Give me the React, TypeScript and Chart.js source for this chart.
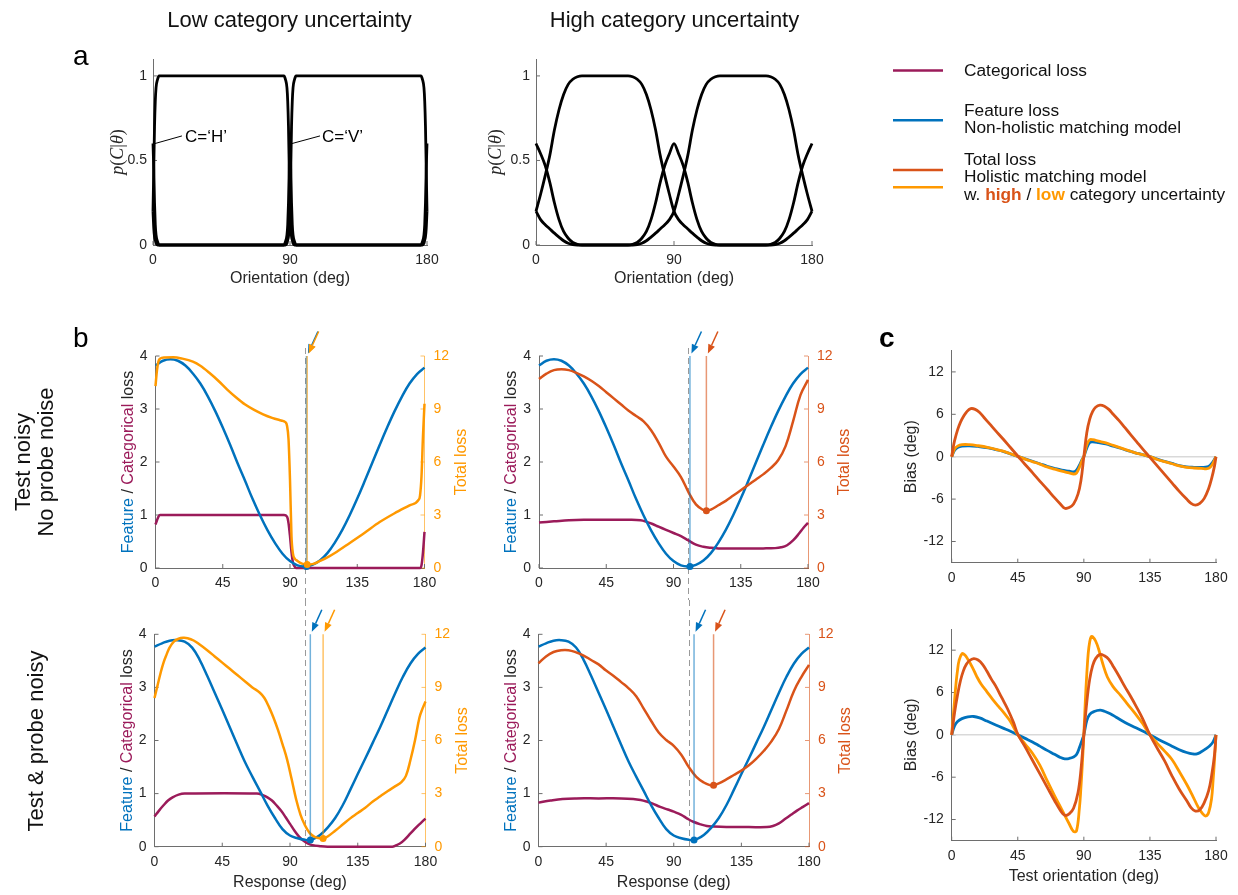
import React, { useEffect, useRef } from "react";
import { Chart, registerables } from "chart.js";

Chart.register(...registerables);

const FONT = "'Liberation Sans', Arial, Helvetica, sans-serif";
const BLUE = "#0072BD";
const ORANGE = "#FF9900";
const RED = "#D95319";
const PURPLE = "#9B1B5A";
const INK = "#262626";
const AXISLINE = "#6E6E6E";
const TITLE_FONT = "16px 'Liberation Sans', Arial, sans-serif";

// ---------------- Panel a : p(C|theta) ----------------
const aXTicks = [0, 90, 180];
const aYTicks = [0, 0.5, 1];
const aLowTheta = [0, 0.5, 1, 1.5, 2, 3, 4, 86, 87, 88, 88.5, 89, 89.5, 90, 90.5, 91, 91.5, 92, 93, 94, 176, 177, 178, 178.5, 179, 179.5, 180];
const aLowH = [0.2, 0.45, 0.7, 0.85, 0.93, 0.98, 1, 1, 0.98, 0.93, 0.85, 0.7, 0.45, 0.2, 0.1, 0.05, 0.03, 0.01, 0, 0, 0, 0, 0.01, 0.03, 0.05, 0.1, 0.2];
const aLowV = [0.2, 0.1, 0.05, 0.03, 0.01, 0, 0, 0, 0, 0.01, 0.03, 0.05, 0.1, 0.2, 0.45, 0.7, 0.85, 0.93, 0.98, 1, 1, 0.98, 0.93, 0.85, 0.7, 0.45, 0.2];
const aLowO = [0.6, 0.45, 0.25, 0.12, 0.06, 0.02, 0, 0, 0.02, 0.06, 0.12, 0.25, 0.45, 0.6, 0.45, 0.25, 0.12, 0.06, 0.02, 0, 0, 0.02, 0.06, 0.12, 0.25, 0.45, 0.6];

const aHighTheta = [0, 3, 6, 9, 12, 15, 18, 21, 24, 27, 30, 33, 36, 39, 42, 45, 48, 51, 54, 57, 60, 63, 66, 69, 72, 75, 78, 81, 84, 87, 90, 93, 96, 99, 102, 105, 108, 111, 114, 117, 120, 123, 126, 129, 132, 135, 138, 141, 144, 147, 150, 153, 156, 159, 162, 165, 168, 171, 174, 177, 180];
const aHighH = [0.2, 0.3, 0.41, 0.53, 0.68, 0.8, 0.89, 0.95, 0.98, 0.995, 1, 1, 1, 1, 1, 1, 1, 1, 1, 1, 1, 0.995, 0.98, 0.95, 0.89, 0.8, 0.68, 0.53, 0.41, 0.3, 0.2, 0.15, 0.12, 0.095, 0.07, 0.047, 0.025, 0.01, 0.002, 0, 0, 0, 0, 0, 0, 0, 0, 0, 0, 0, 0, 0, 0.002, 0.01, 0.025, 0.047, 0.07, 0.095, 0.12, 0.15, 0.2];
const aHighV = [0.2, 0.15, 0.12, 0.095, 0.07, 0.047, 0.025, 0.01, 0.002, 0, 0, 0, 0, 0, 0, 0, 0, 0, 0, 0, 0, 0, 0.002, 0.01, 0.025, 0.047, 0.07, 0.095, 0.12, 0.15, 0.2, 0.3, 0.41, 0.53, 0.68, 0.8, 0.89, 0.95, 0.98, 0.995, 1, 1, 1, 1, 1, 1, 1, 1, 1, 1, 1, 0.995, 0.98, 0.95, 0.89, 0.8, 0.68, 0.53, 0.41, 0.3, 0.2];
const aHighO = [0.6, 0.54, 0.47, 0.37, 0.25, 0.15, 0.08, 0.04, 0.015, 0.004, 0, 0, 0, 0, 0, 0, 0, 0, 0, 0, 0, 0.004, 0.015, 0.04, 0.08, 0.15, 0.25, 0.37, 0.47, 0.54, 0.6, 0.54, 0.47, 0.37, 0.25, 0.15, 0.08, 0.04, 0.015, 0.004, 0, 0, 0, 0, 0, 0, 0, 0, 0, 0, 0, 0.004, 0.015, 0.04, 0.08, 0.15, 0.25, 0.37, 0.47, 0.54, 0.6];

// ---------------- Panel b : loss functions ----------------
const bXTicks = [0, 45, 90, 135, 180];
const bYTicks = [0, 1, 2, 3, 4];
const bY2Ticks = [0, 3, 6, 9, 12];
const bTrueOrientation = 100;

// row 1 (test noisy, no probe noise)
const bFeat1X = [0, 5, 10, 15, 20, 25, 30, 35, 40, 45, 50, 55, 60, 65, 70, 75, 80, 85, 90, 95, 100, 105, 110, 115, 120, 125, 130, 135, 140, 145, 150, 155, 160, 165, 170, 175, 180];
const bFeat1Y = [3.82, 3.91, 3.94, 3.91, 3.82, 3.67, 3.48, 3.24, 2.96, 2.65, 2.32, 1.97, 1.64, 1.3, 0.99, 0.71, 0.47, 0.27, 0.13, 0.05, 0.03, 0.06, 0.14, 0.28, 0.48, 0.72, 1.0, 1.31, 1.64, 1.98, 2.32, 2.65, 2.96, 3.24, 3.48, 3.66, 3.78];
const bCat1LowX = [0, 1, 2, 3, 86, 88, 89, 90, 91, 92, 93, 94, 177, 178, 179, 180];
const bCat1LowY = [0.82, 0.9, 0.97, 1, 1, 0.97, 0.85, 0.6, 0.3, 0.1, 0.03, 0, 0, 0.05, 0.3, 0.68];
const bTot1LowX = [0, 1, 2, 3, 6, 12, 18, 25, 30, 36, 42, 48, 54, 60, 66, 72, 78, 84, 87, 88, 89, 90, 91, 92, 93, 95, 98, 101, 105, 110, 115, 120, 130, 140, 150, 160, 170, 176, 177, 178, 179, 180];
const bTot1LowY = [10.3, 11.2, 11.7, 11.85, 11.92, 11.93, 11.85, 11.68, 11.45, 11.05, 10.6, 10.1, 9.65, 9.25, 8.95, 8.7, 8.5, 8.35, 8.25, 8.05, 7.3, 5.0, 1.8, 0.8, 0.55, 0.4, 0.25, 0.2, 0.22, 0.4, 0.6, 0.85, 1.42, 2.0, 2.6, 3.1, 3.55, 3.85, 4.1, 5.2, 7.5, 9.3];
const bCat1HighX = [0, 10, 20, 30, 40, 50, 60, 68, 72, 76, 80, 85, 90, 95, 100, 105, 110, 115, 120, 130, 140, 150, 158, 162, 166, 170, 174, 177, 180];
const bCat1HighY = [0.86, 0.88, 0.9, 0.91, 0.91, 0.91, 0.91, 0.9, 0.87, 0.83, 0.78, 0.72, 0.66, 0.6, 0.52, 0.44, 0.4, 0.38, 0.37, 0.37, 0.37, 0.37, 0.375, 0.39, 0.43, 0.52, 0.65, 0.76, 0.85];
const bTot1HighX = [0, 5, 10, 15, 20, 25, 30, 35, 40, 45, 50, 55, 60, 65, 70, 75, 80, 85, 90, 95, 100, 105, 110, 112, 115, 120, 125, 130, 135, 140, 145, 150, 155, 160, 165, 170, 175, 180];
const bTot1HighY = [10.7, 11.0, 11.2, 11.25, 11.2, 11.05, 10.85, 10.6, 10.3, 9.95, 9.6, 9.25, 8.9, 8.6, 8.3, 7.8, 7.1, 6.3, 5.75, 5.15, 4.3, 3.6, 3.28, 3.24, 3.3, 3.55, 3.8, 4.1, 4.4, 4.7, 5.0, 5.3, 5.65, 6.1, 6.9, 8.3, 9.8, 10.65];

// row 2 (test & probe noisy)
const bFeat2X = [0, 5, 10, 15, 20, 25, 30, 35, 40, 45, 50, 55, 60, 65, 70, 75, 80, 85, 90, 95, 100, 103, 106, 110, 115, 120, 125, 130, 135, 140, 145, 150, 155, 160, 165, 170, 175, 180];
const bFeat2Y = [3.77, 3.83, 3.88, 3.89, 3.86, 3.75, 3.52, 3.22, 2.9, 2.58, 2.25, 1.92, 1.6, 1.32, 1.05, 0.78, 0.54, 0.33, 0.21, 0.16, 0.13, 0.125, 0.15, 0.22, 0.36, 0.54, 0.78, 1.07, 1.37, 1.66, 1.96, 2.26, 2.58, 2.9, 3.2, 3.45, 3.63, 3.75];
const bCat2LowX = [0, 3, 6, 9, 12, 16, 20, 68, 72, 75, 78, 81, 84, 87, 90, 93, 96, 99, 102, 105, 110, 115, 158, 160, 163, 166, 170, 174, 177, 180];
const bCat2LowY = [0.57, 0.68, 0.78, 0.87, 0.93, 0.98, 1, 1, 0.97, 0.93, 0.87, 0.78, 0.68, 0.56, 0.43, 0.3, 0.19, 0.11, 0.06, 0.03, 0.01, 0, 0, 0.02, 0.06, 0.13, 0.25, 0.37, 0.45, 0.53];
const bTot2LowX = [0, 2, 4, 6, 8, 10, 13, 16, 19, 22, 26, 30, 35, 40, 45, 50, 55, 60, 65, 70, 73, 76, 79, 82, 85, 88, 91, 94, 97, 100, 103, 106, 109, 112, 115, 120, 125, 130, 135, 140, 145, 150, 155, 160, 164, 167, 170, 173, 176, 178, 180];
const bTot2LowY = [8.4, 9.1, 9.8, 10.4, 10.85, 11.25, 11.6, 11.75, 11.8, 11.78, 11.65, 11.42, 11.1, 10.75, 10.4, 10.05, 9.7, 9.35, 9.0, 8.7, 8.4, 7.9, 7.3, 6.6, 5.8, 4.95, 3.85, 2.7, 1.8, 1.2, 0.78, 0.57, 0.49, 0.47, 0.58, 0.9, 1.25, 1.6, 1.9, 2.2, 2.55, 2.85, 3.15, 3.42, 3.65, 4.0, 4.9, 6.0, 7.3, 7.8, 8.2];
const bCat2HighX = [0, 8, 16, 25, 40, 55, 63, 68, 72, 76, 81, 86, 90, 95, 99, 103, 108, 112, 116, 125, 140, 152, 156, 160, 164, 168, 172, 176, 180];
const bCat2HighY = [0.83, 0.87, 0.9, 0.91, 0.91, 0.91, 0.9, 0.88, 0.85, 0.81, 0.75, 0.7, 0.66, 0.6, 0.53, 0.47, 0.42, 0.39, 0.38, 0.37, 0.37, 0.37, 0.39, 0.44, 0.52, 0.6, 0.68, 0.75, 0.82];
const bTot2HighX = [0, 5, 10, 15, 20, 25, 30, 35, 40, 45, 50, 55, 60, 65, 70, 75, 80, 85, 90, 95, 100, 105, 110, 114, 116, 120, 125, 130, 135, 140, 145, 150, 155, 160, 165, 170, 175, 180];
const bTot2HighY = [10.36, 10.75, 11.0, 11.1, 11.1, 10.98, 10.8, 10.55, 10.3, 9.95, 9.65, 9.3, 8.95, 8.5, 7.8, 7.1, 6.45, 6.03, 5.7, 5.2, 4.5, 3.95, 3.63, 3.48, 3.47, 3.58, 3.8, 4.05, 4.3, 4.6, 4.98, 5.42, 5.95, 6.65, 7.7, 8.8, 9.6, 10.27];

// minima (chosen responses): [x, y]
const b1FeatMin = [101, 0.03];
const b1TotMin = [101.5, 0.2];
const b2FeatMin = [101, 0.03];
const b2TotMin = [112, 3.24];
const b3FeatMin = [103.5, 0.125];
const b3TotMin = [112, 0.47];
const b4FeatMin = [103.5, 0.125];
const b4TotMin = [116.5, 3.47];

// ---------------- Panel c : bias ----------------
const cXTicks = [0, 45, 90, 135, 180];
const cYTicks = [-12, -6, 0, 6, 12];
const cZeroX = [0, 180];
const cZeroY = [0, 0];

const cRed1X = [0, 1, 2, 4, 6, 8, 10, 13, 16, 19, 22, 26, 30, 35, 40, 45, 50, 55, 60, 65, 70, 74, 77, 80, 83, 86, 88, 90, 92, 94, 96, 98, 101, 104, 107, 110, 114, 118, 122, 126, 130, 135, 140, 145, 150, 155, 160, 163, 166, 169, 172, 175, 177, 179, 180];
const cRed1Y = [0, 1.3, 2.3, 3.8, 4.9, 5.7, 6.3, 6.8, 6.7, 6.25, 5.55, 4.6, 3.65, 2.5, 1.3, 0.1, -1.1, -2.25, -3.45, -4.6, -5.8, -6.7, -7.3, -7.2, -6.7, -5.3, -3.4, 0, 3.4, 5.3, 6.4, 7.0, 7.3, 7.15, 6.7, 6.0, 5.1, 4.1, 3.1, 2.1, 1.1, -0.1, -1.3, -2.5, -3.7, -4.9, -6.0, -6.6, -6.85, -6.6, -5.9, -4.5, -3.1, -1.3, 0];
const cLow1X = [0, 2, 4, 7, 12, 18, 25, 30, 35, 40, 45, 50, 55, 60, 65, 70, 75, 80, 83, 85, 87, 89, 90, 92, 94, 96, 100, 105, 110, 115, 120, 125, 130, 135, 140, 145, 150, 155, 160, 165, 170, 174, 176, 178, 180];
const cBlue1Y = [0, 0.9, 1.3, 1.5, 1.55, 1.45, 1.25, 1.0, 0.75, 0.4, 0.05, -0.3, -0.65, -1.0, -1.35, -1.65, -1.9, -2.05, -2.15, -1.9, -1.2, -0.3, 0, 1.2, 2.0, 2.1, 2.0, 1.8, 1.5, 1.2, 0.85, 0.55, 0.3, 0, -0.35, -0.65, -0.95, -1.25, -1.45, -1.5, -1.5, -1.45, -1.2, -0.7, 0];
const cOr1Y = [0, 1.1, 1.5, 1.7, 1.7, 1.55, 1.3, 1.05, 0.78, 0.42, 0.05, -0.35, -0.7, -1.05, -1.45, -1.75, -2.05, -2.3, -2.45, -2.3, -1.5, -0.4, 0, 1.7, 2.4, 2.4, 2.2, 1.95, 1.6, 1.25, 0.9, 0.55, 0.3, 0, -0.4, -0.7, -1.0, -1.3, -1.5, -1.6, -1.65, -1.7, -1.5, -0.9, 0];

const cOr2X = [0, 2, 3, 4, 5, 7, 9, 11, 14, 17, 20, 24, 28, 32, 36, 40, 45, 50, 55, 60, 65, 70, 75, 80, 83, 85, 87, 88, 89, 90, 91, 92, 93, 94, 95, 96, 98, 100, 103, 106, 110, 115, 120, 125, 130, 135, 140, 145, 150, 155, 160, 164, 168, 171, 173, 175, 177, 178, 179, 180];
const cOr2Y = [0, 5.0, 7.4, 9.2, 10.5, 11.5, 11.3, 10.7, 9.6, 8.3, 7.2, 6.1, 5.0, 4.0, 3.0, 1.9, 0, -1.3, -2.6, -4.3, -6.5, -8.6, -10.6, -12.6, -13.7, -13.6, -10.3, -7.5, -4.0, 0, 4.8, 8.6, 11.6, 13.2, 13.9, 13.9, 13.3, 12.2, 10.0, 8.2, 6.8, 5.6, 4.3, 3.0, 1.6, 0, -1.2, -2.3, -3.5, -5.2, -7.0, -8.6, -10.3, -11.2, -11.5, -11.0, -9.0, -6.5, -3.5, 0];
const cRed2X = [0, 2, 4, 6, 8, 10, 12, 15, 18, 21, 24, 27, 30, 34, 38, 42, 45, 50, 55, 60, 65, 70, 74, 77, 80, 83, 86, 88, 90, 92, 94, 96, 98, 101, 104, 107, 110, 114, 118, 122, 126, 130, 135, 140, 145, 150, 155, 160, 163, 166, 169, 172, 175, 177, 179, 180];
const cRed2Y = [0, 3.2, 5.7, 7.7, 9.1, 10.0, 10.5, 10.8, 10.6, 10.0, 9.0, 7.9, 6.9, 5.3, 3.7, 1.8, 0.1, -1.7, -3.6, -5.5, -7.4, -9.3, -10.7, -11.4, -11.2, -10.4, -8.2, -5.0, 0, 4.6, 7.9, 9.8, 10.8, 11.4, 11.2, 10.7, 9.7, 8.3, 6.8, 5.4, 3.9, 2.3, 0, -1.9, -3.7, -5.8, -7.7, -9.3, -10.3, -10.8, -10.6, -9.6, -7.9, -5.8, -2.8, 0];
const cBlue2X = [0, 2, 4, 7, 11, 15, 19, 24, 30, 35, 40, 45, 50, 55, 60, 65, 70, 74, 77, 80, 83, 85, 87, 89, 90, 92, 94, 97, 101, 104, 108, 112, 116, 120, 125, 130, 135, 140, 145, 150, 155, 160, 164, 167, 170, 173, 176, 178, 180];
const cBlue2Y = [0, 1.3, 1.9, 2.3, 2.55, 2.6, 2.4, 1.95, 1.4, 0.95, 0.5, 0, -0.5, -1.0, -1.6, -2.2, -2.75, -3.2, -3.4, -3.35, -3.15, -2.8, -1.8, -0.6, 0, 2.0, 2.9, 3.3, 3.5, 3.35, 3.0, 2.5, 2.0, 1.55, 1.05, 0.55, 0, -0.55, -1.1, -1.6, -2.1, -2.5, -2.7, -2.7, -2.4, -2.0, -1.5, -1.0, 0];

// ---------------- helpers ----------------
type Seg = [string, string, string?];
type Title = { d: number; segs: Seg[] };
type AxisSpec = { min: number; max: number; ticks: number[]; color?: string; line?: string; pad?: number };
type Callout = { text: string; from: number[]; to: number[]; at: number[] };
type Spec = {
  rect: { x: number; y: number; w: number; h: number };
  area: { l: number; t: number; r: number; b: number };
  x: AxisSpec;
  y: AxisSpec;
  y2?: AxisSpec;
  datasets: any[];
  titles: { left?: Title; right?: Title; bottom?: Title };
  ref?: { value: number; row: number };
  callouts?: Callout[];
};

function line(xs: number[], ys: number[], color: string, width = 2.5, smooth = true, extra: any = {}) {
  const curve = smooth
    ? { tension: 0.4, cubicInterpolationMode: "default" }
    : { tension: 0, cubicInterpolationMode: "monotone" };
  return {
    data: xs.map((x, i) => ({ x, y: ys[i] })),
    borderColor: color,
    backgroundColor: color,
    borderWidth: width,
    pointRadius: 0,
    fill: false,
    clip: 6,
    borderJoinStyle: "round",
    ...curve,
    ...extra,
  };
}

function marker(min: number[], top: number, lineColor: string, solid: string, yAxisID: string) {
  return {
    data: [
      { x: min[0], y: top },
      { x: min[0], y: min[1] },
    ],
    borderColor: lineColor,
    backgroundColor: solid,
    borderWidth: 1.5,
    pointRadius: [0, 3.5],
    pointBackgroundColor: solid,
    pointBorderColor: solid,
    pointBorderWidth: 0,
    tension: 0,
    fill: false,
    clip: false,
    yAxisID,
    arrowColor: solid,
  };
}

function axis(position: string, sp: AxisSpec, afterFit: (s: any) => void, pad: number) {
  return {
    type: "linear",
    position,
    min: sp.min,
    max: sp.max,
    afterBuildTicks: (sc: any) => {
      sc.ticks = sp.ticks.map((v) => ({ value: v }));
    },
    afterFit,
    grid: { display: true, drawOnChartArea: false, drawTicks: false },
    border: { display: true, color: sp.line || AXISLINE, width: 1 },
    ticks: {
      color: sp.color || INK,
      font: { family: FONT, size: 14 },
      padding: sp.pad ?? pad,
      autoSkip: false,
      maxRotation: 0,
      minRotation: 0,
      callback: (v: any) => String(v),
    },
  };
}

function overlay(s: Spec) {
  return {
    id: "overlay",
    beforeDatasetsDraw(chart: any) {
      const { ctx, chartArea: a } = chart;
      ctx.save();
      for (const id of Object.keys(chart.scales)) {
        const sc = chart.scales[id];
        ctx.strokeStyle = sc.options.border.color;
        ctx.lineWidth = 1;
        for (const t of sc.ticks) {
          const p = sc.getPixelForValue(t.value);
          ctx.beginPath();
          if (sc.isHorizontal()) {
            ctx.moveTo(p, a.bottom);
            ctx.lineTo(p, a.bottom - 4);
          } else if (sc.position === "left") {
            ctx.moveTo(a.left, p);
            ctx.lineTo(a.left + 4, p);
          } else {
            ctx.moveTo(a.right, p);
            ctx.lineTo(a.right - 4, p);
          }
          ctx.stroke();
        }
      }
      if (s.ref) {
        const x = Math.round(chart.scales.x.getPixelForValue(s.ref.value)) + 0.5;
        const y0 = s.ref.row === 1 ? a.top - 8 : 0;
        const y1 = s.ref.row === 1 ? chart.height : a.bottom;
        ctx.strokeStyle = "#9a9a9a";
        ctx.lineWidth = 1;
        ctx.setLineDash([6, 4]);
        ctx.beginPath();
        ctx.moveTo(x, y0);
        ctx.lineTo(x, y1);
        ctx.stroke();
        ctx.setLineDash([]);
      }
      ctx.restore();
    },
    afterDatasetsDraw(chart: any) {
      const { ctx } = chart;
      ctx.save();
      const dss = chart.data.datasets;
      for (let i = dss.length - 1; i >= 0; i--) {
        const ds: any = dss[i];
        if (!ds.arrowColor) continue;
        const p = chart.getDatasetMeta(i).data[0];
        const tipX = p.x + 1.5;
        const tipY = p.y - 2.5;
        const tailX = p.x + 11.5;
        const tailY = p.y - 24.5;
        const ang = Math.atan2(tipY - tailY, tipX - tailX);
        const L = 9;
        const W = 3.6;
        const bx = tipX - L * Math.cos(ang);
        const by = tipY - L * Math.sin(ang);
        ctx.strokeStyle = ds.arrowColor;
        ctx.fillStyle = ds.arrowColor;
        ctx.lineWidth = 1.5;
        ctx.beginPath();
        ctx.moveTo(tailX, tailY);
        ctx.lineTo(bx, by);
        ctx.stroke();
        ctx.beginPath();
        ctx.moveTo(tipX, tipY);
        ctx.lineTo(bx + W * Math.sin(ang), by - W * Math.cos(ang));
        ctx.lineTo(bx - W * Math.sin(ang), by + W * Math.cos(ang));
        ctx.closePath();
        ctx.fill();
      }
      if (s.callouts) {
        const X = chart.scales.x;
        const Y = chart.scales.y;
        for (const c of s.callouts) {
          ctx.strokeStyle = "#000";
          ctx.lineWidth = 1;
          ctx.beginPath();
          ctx.moveTo(X.getPixelForValue(c.from[0]), Y.getPixelForValue(c.from[1]));
          ctx.lineTo(X.getPixelForValue(c.to[0]), Y.getPixelForValue(c.to[1]));
          ctx.stroke();
          ctx.font = "17px 'Liberation Sans', Arial, sans-serif";
          ctx.fillStyle = "#000";
          ctx.textAlign = "left";
          ctx.textBaseline = "middle";
          ctx.fillText(c.text, X.getPixelForValue(c.at[0]), Y.getPixelForValue(c.at[1]));
        }
      }
      ctx.restore();
    },
    afterDraw(chart: any) {
      const { ctx, chartArea: a } = chart;
      const cy = (a.top + a.bottom) / 2;
      const cx = (a.left + a.right) / 2;
      const draw = (t: Title | undefined, x: number, y: number, rot: number) => {
        if (!t) return;
        ctx.save();
        ctx.translate(x, y);
        ctx.rotate(rot);
        ctx.textBaseline = "middle";
        ctx.textAlign = "left";
        const ws = t.segs.map((sg) => {
          ctx.font = sg[2] || TITLE_FONT;
          return ctx.measureText(sg[0]).width;
        });
        let px = -ws.reduce((p, c) => p + c, 0) / 2;
        t.segs.forEach((sg, i) => {
          ctx.font = sg[2] || TITLE_FONT;
          ctx.fillStyle = sg[1];
          ctx.fillText(sg[0], px, 0);
          px += ws[i];
        });
        ctx.restore();
      };
      const T = s.titles;
      if (T.left) draw(T.left, a.left + T.left.d, cy, -Math.PI / 2);
      if (T.right) draw(T.right, a.right + T.right.d, cy, -Math.PI / 2);
      if (T.bottom) draw(T.bottom, cx, a.bottom + T.bottom.d, 0);
    },
  };
}

function buildConfig(s: Spec): any {
  const { rect, area } = s;
  const yW = area.l - rect.x;
  const xH = rect.y + rect.h - area.b;
  const padTop = area.t - rect.y;
  const rightGap = rect.x + rect.w - area.r;
  const scales: any = {
    x: axis("bottom", s.x, (sc: any) => {
      sc.height = xH;
    }, 7),
    y: axis("left", s.y, (sc: any) => {
      sc.width = yW;
    }, 8),
  };
  if (s.y2) {
    scales.y2 = axis("right", s.y2, (sc: any) => {
      sc.width = rightGap;
    }, 9);
  }
  return {
    type: "line",
    data: { datasets: s.datasets },
    options: {
      animation: false,
      responsive: false,
      maintainAspectRatio: false,
      events: [],
      layout: { autoPadding: false, padding: { top: padTop, left: 0, right: s.y2 ? 0 : rightGap, bottom: 0 } },
      scales,
      plugins: { legend: { display: false }, tooltip: { enabled: false } },
    },
    plugins: [overlay(s)],
  };
}

function Panel({ spec }: { spec: Spec }) {
  const ref = useRef<HTMLCanvasElement>(null);
  useEffect(() => {
    const chart = new Chart(ref.current as HTMLCanvasElement, buildConfig(spec));
    return () => chart.destroy();
  }, []);
  const r = spec.rect;
  return (
    <canvas
      ref={ref}
      width={r.w}
      height={r.h}
      style={{ position: "absolute", left: r.x, top: r.y, width: r.w, height: r.h }}
    />
  );
}

// ---------------- panel specs ----------------
const IT = "italic 18px 'Liberation Serif', 'DejaVu Serif', serif";
const RM = "18px 'Liberation Serif', 'DejaVu Serif', serif";
const pTitle: Seg[] = [
  ["p", INK, IT],
  ["(", INK, RM],
  ["C", INK, IT],
  ["|", INK, RM],
  ["θ", INK, IT],
  [")", INK, RM],
];
const featCat = (total: string): { left: Title; right: Title } => ({
  left: { d: -27, segs: [["Feature", BLUE], [" / ", INK], ["Categorical", PURPLE], [" loss", INK]] },
  right: { d: 37, segs: [["Total loss", total]] },
});

const ORANGE_A = "rgba(255,153,0,0.6)";
const RED_A = "rgba(217,83,25,0.6)";
const BLUE_A = "rgba(0,114,189,0.55)";

const specs: Spec[] = [
  {
    rect: { x: 90, y: 40, w: 370, h: 260 },
    area: { l: 153, t: 59, r: 427, b: 245 },
    x: { min: 0, max: 180, ticks: aXTicks },
    y: { min: 0, max: 1.1, ticks: aYTicks, pad: 6 },
    datasets: [
      line(aLowTheta, aLowH, "#000", 2.8, false),
      line(aLowTheta, aLowV, "#000", 2.8, false),
      line(aLowTheta, aLowO, "#000", 2.8, false),
    ],
    titles: { left: { d: -35, segs: pTitle }, bottom: { d: 33.5, segs: [["Orientation (deg)", INK]] } },
    callouts: [
      { text: "C=‘H’", from: [1.3, 0.6], to: [19, 0.645], at: [21, 0.635] },
      { text: "C=‘V’", from: [91.3, 0.6], to: [109.7, 0.645], at: [111, 0.635] },
    ],
  },
  {
    rect: { x: 470, y: 40, w: 390, h: 260 },
    area: { l: 536, t: 59, r: 812, b: 245 },
    x: { min: 0, max: 180, ticks: aXTicks },
    y: { min: 0, max: 1.1, ticks: aYTicks, pad: 6 },
    datasets: [
      line(aHighTheta, aHighH, "#000", 2.8, false),
      line(aHighTheta, aHighV, "#000", 2.8, false),
      line(aHighTheta, aHighO, "#000", 2.8, false),
    ],
    titles: { left: { d: -40, segs: pTitle }, bottom: { d: 34, segs: [["Orientation (deg)", INK]] } },
  },
  {
    rect: { x: 95, y: 320, w: 385, h: 280 },
    area: { l: 155.5, t: 356, r: 424.5, b: 568 },
    x: { min: 0, max: 180, ticks: bXTicks },
    y: { min: 0, max: 4, ticks: bYTicks },
    y2: { min: 0, max: 12, ticks: bY2Ticks, color: ORANGE, line: ORANGE_A },
    datasets: [
      marker(b1TotMin, 12, ORANGE_A, ORANGE, "y2"),
      marker(b1FeatMin, 4, BLUE_A, BLUE, "y"),
      line(bTot1LowX, bTot1LowY, ORANGE, 2.5, false, { yAxisID: "y2" }),
      line(bFeat1X, bFeat1Y, BLUE),
      line(bCat1LowX, bCat1LowY, PURPLE, 2.5, false),
    ],
    titles: featCat(ORANGE),
    ref: { value: bTrueOrientation, row: 1 },
  },
  {
    rect: { x: 480, y: 320, w: 390, h: 280 },
    area: { l: 539, t: 356, r: 808, b: 568 },
    x: { min: 0, max: 180, ticks: bXTicks },
    y: { min: 0, max: 4, ticks: bYTicks },
    y2: { min: 0, max: 12, ticks: bY2Ticks, color: RED, line: RED_A },
    datasets: [
      marker(b2FeatMin, 4, BLUE_A, BLUE, "y"),
      marker(b2TotMin, 12, RED_A, RED, "y2"),
      line(bTot1HighX, bTot1HighY, RED, 2.5, true, { yAxisID: "y2" }),
      line(bFeat1X, bFeat1Y, BLUE),
      line(bCat1HighX, bCat1HighY, PURPLE),
    ],
    titles: featCat(RED),
    ref: { value: bTrueOrientation, row: 1 },
  },
  {
    rect: { x: 95, y: 600, w: 385, h: 295 },
    area: { l: 154.5, t: 634.3, r: 425.5, b: 846.7 },
    x: { min: 0, max: 180, ticks: bXTicks },
    y: { min: 0, max: 4, ticks: bYTicks },
    y2: { min: 0, max: 12, ticks: bY2Ticks, color: ORANGE, line: ORANGE_A },
    datasets: [
      marker(b3FeatMin, 4, BLUE_A, BLUE, "y"),
      marker(b3TotMin, 12, ORANGE_A, ORANGE, "y2"),
      line(bTot2LowX, bTot2LowY, ORANGE, 2.5, true, { yAxisID: "y2" }),
      line(bFeat2X, bFeat2Y, BLUE),
      line(bCat2LowX, bCat2LowY, PURPLE),
    ],
    titles: { ...featCat(ORANGE), bottom: { d: 36.3, segs: [["Response (deg)", INK]] } },
    ref: { value: bTrueOrientation, row: 2 },
  },
  {
    rect: { x: 480, y: 600, w: 390, h: 295 },
    area: { l: 538.5, t: 634.3, r: 809, b: 846.7 },
    x: { min: 0, max: 180, ticks: bXTicks },
    y: { min: 0, max: 4, ticks: bYTicks },
    y2: { min: 0, max: 12, ticks: bY2Ticks, color: RED, line: RED_A },
    datasets: [
      marker(b4FeatMin, 4, BLUE_A, BLUE, "y"),
      marker(b4TotMin, 12, RED_A, RED, "y2"),
      line(bTot2HighX, bTot2HighY, RED, 2.5, true, { yAxisID: "y2" }),
      line(bFeat2X, bFeat2Y, BLUE),
      line(bCat2HighX, bCat2HighY, PURPLE),
    ],
    titles: { ...featCat(RED), bottom: { d: 36.3, segs: [["Response (deg)", INK]] } },
    ref: { value: bTrueOrientation, row: 2 },
  },
  {
    rect: { x: 880, y: 320, w: 358, h: 280 },
    area: { l: 951.7, t: 350.7, r: 1216, b: 562.7 },
    x: { min: 0, max: 180, ticks: cXTicks },
    y: { min: -15, max: 15, ticks: cYTicks },
    datasets: [
      line(cRed1X, cRed1Y, RED, 2.8),
      line(cLow1X, cOr1Y, ORANGE, 2.8),
      line(cLow1X, cBlue1Y, BLUE, 2.8),
      line(cZeroX, cZeroY, "#D9D9D9", 1.5, false),
    ],
    titles: { left: { d: -40, segs: [["Bias (deg)", INK]] } },
  },
  {
    rect: { x: 880, y: 600, w: 358, h: 295 },
    area: { l: 951.7, t: 629, r: 1216, b: 840.7 },
    x: { min: 0, max: 180, ticks: cXTicks },
    y: { min: -15, max: 15, ticks: cYTicks },
    datasets: [
      line(cRed2X, cRed2Y, RED, 2.8),
      line(cOr2X, cOr2Y, ORANGE, 2.8),
      line(cBlue2X, cBlue2Y, BLUE, 2.8),
      line(cZeroX, cZeroY, "#D9D9D9", 1.5, false),
    ],
    titles: { left: { d: -40, segs: [["Bias (deg)", INK]] }, bottom: { d: 36, segs: [["Test orientation (deg)", INK]] } },
  },
];

export default function App() {
  const txt = "#111";
  const lg = 17.3;
  return (
    <div style={{ position: "absolute", left: 0, top: 0, width: 1238, height: 895, background: "#fff", overflow: "hidden" }}>
      {specs.map((s, i) => (
        <Panel key={i} spec={s} />
      ))}
      <svg
        width={1238}
        height={895}
        style={{ position: "absolute", left: 0, top: 0, pointerEvents: "none" }}
        fontFamily="'Liberation Sans', Arial, Helvetica, sans-serif"
      >
        <text x={289.5} y={27} fontSize={22} textAnchor="middle" fill={txt}>Low category uncertainty</text>
        <text x={674.5} y={27} fontSize={22} textAnchor="middle" fill={txt}>High category uncertainty</text>
        <text x={73} y={65} fontSize={28} fill="#000">a</text>
        <text x={73} y={347} fontSize={28} fill="#000">b</text>
        <text x={879} y={347} fontSize={28} fontWeight="bold" fill="#000">c</text>
        <text transform="translate(30 462) rotate(-90)" fontSize={22} textAnchor="middle" fill={txt}>Test noisy</text>
        <text transform="translate(53 462) rotate(-90)" fontSize={22} textAnchor="middle" fill={txt}>No probe noise</text>
        <text transform="translate(43 741) rotate(-90)" fontSize={22} textAnchor="middle" fill={txt}>Test &amp; probe noisy</text>

        <line x1={893} x2={943} y1={70.5} y2={70.5} stroke={PURPLE} strokeWidth={2.6} />
        <line x1={893} x2={943} y1={120.3} y2={120.3} stroke={BLUE} strokeWidth={2.6} />
        <line x1={893} x2={943} y1={170} y2={170} stroke={RED} strokeWidth={2.6} />
        <line x1={893} x2={943} y1={187.3} y2={187.3} stroke={ORANGE} strokeWidth={2.6} />
        <text x={964} y={76} fontSize={lg} fill={txt}>Categorical loss</text>
        <text x={964} y={115.5} fontSize={lg} fill={txt}>Feature loss</text>
        <text x={964} y={133} fontSize={lg} fill={txt}>Non-holistic matching model</text>
        <text x={964} y={164.5} fontSize={lg} fill={txt}>Total loss</text>
        <text x={964} y={182} fontSize={lg} fill={txt}>Holistic matching model</text>
        <text x={964} y={200} fontSize={lg} fill={txt}>
          {"w. "}
          <tspan fill={RED} fontWeight="bold">high</tspan>
          {" / "}
          <tspan fill={ORANGE} fontWeight="bold">low</tspan>
          {" category uncertainty"}
        </text>
      </svg>
    </div>
  );
}
